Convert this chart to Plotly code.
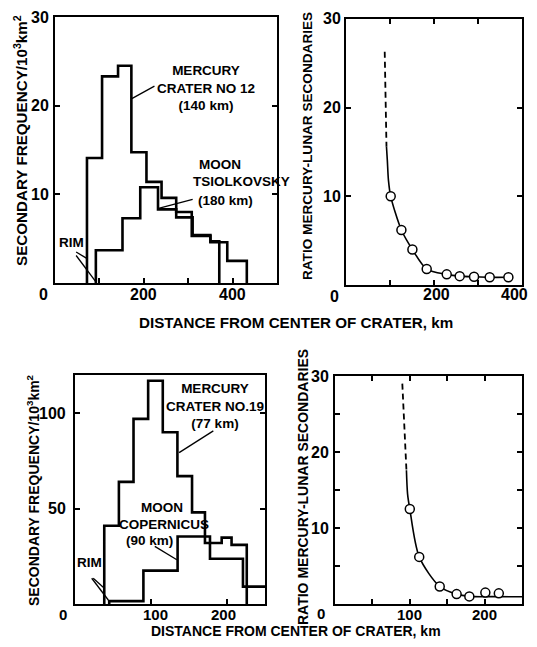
import plotly.graph_objects as go

W, H = 537, 647          # browser window
OFF = 8                  # default page (body) margin around the plot div
FW, FH = W - 2 * OFF, H - 2 * OFF

# ---------------- data ----------------
# Top-left: secondary frequency (per 10^3 km^2) vs distance (km)
merc12_edges = [72, 106, 142, 172, 206, 240, 273, 308, 350, 388, 432]
merc12_freq = [14.1, 23.3, 24.5, 14.75, 11.4, 9.6, 8.0, 5.3, 4.6, 2.5]
tsiol_edges = [92, 152, 192, 232, 273, 310, 350, 370]
tsiol_freq = [3.7, 7.3, 10.8, 8.3, 7.4, 5.4, 4.7]

# Top-right: ratio Mercury/lunar secondaries
ratio12_x = [101.6, 125.9, 150.9, 183.4, 228.9, 258.4, 291, 326.6, 369.1]
ratio12_y = [10.0, 6.2, 4.0, 1.8, 1.2, 1.0, 0.93, 0.87, 0.87]
curve12_x = [92, 94, 96.5, 101.6, 125.9, 150.9, 183.4, 228.9, 258.4, 291, 326.6, 369.1]
curve12_y = [15.6, 14.0, 11.8, 10.0, 6.2, 4.0, 1.8, 1.2, 1.0, 0.93, 0.87, 0.87]
dash12_x = [88, 92]
dash12_y = [26.3, 15.6]

# Bottom-left
merc19_edges = [38.5, 57.75, 77, 96.25, 115.5, 134.75, 154, 171, 177.6, 221, 260]
merc19_freq = [41, 64, 97, 117, 90, 67, 48, 32, 23.7, 9.1]
coper_edges = [45, 90, 135, 177.6, 193, 206, 226]
coper_freq = [1.5, 17.5, 35.4, 32, 34.8, 31]

# Bottom-right
ratio19_x = [100, 112.6, 140, 162.6, 179.6, 201, 219]
ratio19_y = [12.5, 6.2, 2.3, 1.3, 1.0, 1.5, 1.4]
curve19_x = [95.5, 97, 100, 112.6, 140, 162.6, 179.6, 215, 250]
curve19_y = [17.6, 14.5, 12.5, 6.2, 2.3, 1.3, 1.0, 0.97, 0.95]
dash19_x = [90, 95.5]
dash19_y = [29, 17.6]

# tick marks
p1_xticks = [0, 100, 200, 300, 400]
p1_yticks = [0, 10, 20, 30]
p2_xticks = [0, 100, 200, 300, 400]
p2_yticks = [0, 10, 20, 30]
p3_xticks = [0, 100, 200]
p3_yticks = [0, 50, 100]
p4_xticks = [0, 50, 100, 150, 200, 250]
p4_yticks = [0, 5, 10, 15, 20, 25, 30]
# tick labels
p1_xlabels = [200, 400]
p1_ylabels = [10, 20, 30]
p2_xlabels = [200, 400]
p2_ylabels = [10, 20, 30]
p3_xlabels = [100, 200]
p3_ylabels = [50, 100]
p4_xlabels = [100, 200]
p4_ylabels = [10, 20, 30]

FONT = "Liberation Sans, Arial, Helvetica, sans-serif"


def px(x):
    return (x - OFF) / FW


def py(y):
    return 1 - (y - OFF) / FH


def step_xy(edges, vals):
    xs = [edges[0]] + list(edges)
    ys = [0] + list(vals) + [0]
    return xs, ys


fig = go.Figure()

hist_line = dict(color="black", width=2.6)

x, y = step_xy(merc12_edges, merc12_freq)
fig.add_trace(go.Scatter(x=x, y=y, mode="lines", line=dict(shape="hv", **hist_line), xaxis="x", yaxis="y"))
x, y = step_xy(tsiol_edges, tsiol_freq)
fig.add_trace(go.Scatter(x=x, y=y, mode="lines", line=dict(shape="hv", **hist_line), xaxis="x", yaxis="y"))

fig.add_trace(go.Scatter(x=dash12_x, y=dash12_y, mode="lines", line=dict(color="black", width=1.8, dash="6px,4px"), xaxis="x2", yaxis="y2"))
fig.add_trace(go.Scatter(x=curve12_x, y=curve12_y, mode="lines", line=dict(color="black", width=1.6, shape="spline", smoothing=0.8), xaxis="x2", yaxis="y2"))
fig.add_trace(go.Scatter(x=ratio12_x, y=ratio12_y, mode="markers", marker=dict(symbol="circle", size=9, color="white", line=dict(color="black", width=1.5)), xaxis="x2", yaxis="y2"))

x, y = step_xy(merc19_edges, merc19_freq)
fig.add_trace(go.Scatter(x=x, y=y, mode="lines", line=dict(shape="hv", **hist_line), xaxis="x3", yaxis="y3"))
x, y = step_xy(coper_edges, coper_freq)
fig.add_trace(go.Scatter(x=x, y=y, mode="lines", line=dict(shape="hv", **hist_line), xaxis="x3", yaxis="y3"))

fig.add_trace(go.Scatter(x=dash19_x, y=dash19_y, mode="lines", line=dict(color="black", width=1.8, dash="6px,4px"), xaxis="x4", yaxis="y4"))
fig.add_trace(go.Scatter(x=curve19_x, y=curve19_y, mode="lines", line=dict(color="black", width=1.6, shape="spline", smoothing=0.8), xaxis="x4", yaxis="y4"))
fig.add_trace(go.Scatter(x=ratio19_x, y=ratio19_y, mode="markers", marker=dict(symbol="circle", size=9, color="white", line=dict(color="black", width=1.5)), xaxis="x4", yaxis="y4"))

tickfont = dict(family=FONT, size=16, color="black", weight="bold")
tickfont_b = dict(family=FONT, size=15, color="black", weight="bold")


def axis(domain, rng, tv, anchor, mirror):
    return dict(domain=domain, range=rng, tickvals=tv, anchor=anchor, showticklabels=False,
                showline=True, linecolor="black", linewidth=2, mirror=mirror,
                ticks="inside", ticklen=5, tickwidth=1.6, tickcolor="black",
                showgrid=False, zeroline=False)


fig.update_layout(
    width=FW, height=FH, margin=dict(l=0, r=0, t=0, b=0),
    paper_bgcolor="white", plot_bgcolor="white", showlegend=False,
    xaxis=axis([px(55), px(277)], [0, 500], p1_xticks, "y", True),
    yaxis=axis([py(283), py(17)], [0, 30], p1_yticks, "x", "ticks"),
    xaxis2=axis([px(346), px(522)], [0, 400], p2_xticks, "y2", "ticks"),
    yaxis2=axis([py(285), py(19)], [0, 30], p2_yticks, "x2", "ticks"),
    xaxis3=axis([px(75), px(265)], [0, 250], p3_xticks, "y3", True),
    yaxis3=axis([py(604), py(375)], [0, 120], p3_yticks, "x3", "ticks"),
    xaxis4=axis([px(335), px(522)], [0, 250], p4_xticks, "y4", "ticks"),
    yaxis4=axis([py(604), py(376)], [0, 30], p4_yticks, "x4", "ticks"),
)

lab = dict(family=FONT, size=13.5, color="black", weight="bold")
ttl = dict(family=FONT, size=15.2, color="black", weight="bold")
ttl_b = dict(family=FONT, size=14, color="black", weight="bold")
ttl_r = dict(family=FONT, size=13.6, color="black", weight="bold")
ttl_r4 = dict(family=FONT, size=14, color="black", weight="bold")
ttl_s = dict(family=FONT, size=14, color="black", weight="bold")
ann = []

# tick labels: (x-axis ref, labels, label center y in px, x shifts, font) and (y-axis ref, labels, right edge px)
xlab_specs = [("x", p1_xlabels, 294, [0, 0], tickfont), ("x2", p2_xlabels, 295, [2, -8], tickfont),
              ("x3", p3_xlabels, 614, [4, -4], tickfont_b), ("x4", p4_xlabels, 614, [0, 0], tickfont_b)]
for ref, labs, cy, shifts, fnt in xlab_specs:
    for v, s in zip(labs, shifts):
        ann.append(dict(x=v, y=py(cy), xref=ref, yref="paper", text=str(v), showarrow=False, font=fnt,
                        xanchor="center", yanchor="middle", xshift=s))
ylab_specs = [("y", p1_ylabels, 51), ("y2", p2_ylabels, 343), ("y3", p3_ylabels, 68), ("y4", p4_ylabels, 331)]
for ref, labs, rx in ylab_specs:
    for v in labs:
        ann.append(dict(x=px(rx), y=v, xref="paper", yref=ref, text=str(v), showarrow=False, font=tickfont,
                        xanchor="right", yanchor="middle"))

# corner zeros
for (cx, cy, fnt) in [(43, 295, tickfont), (334, 296, tickfont), (63, 614, tickfont_b), (321, 613, tickfont_b)]:
    ann.append(dict(x=px(cx), y=py(cy), xref="paper", yref="paper", text="0", showarrow=False,
                    font=fnt, xanchor="center", yanchor="middle"))

# axis titles
ann.append(dict(x=px(296), y=py(322), xref="paper", yref="paper", text="DISTANCE FROM CENTER OF CRATER, km",
                showarrow=False, font=ttl, xanchor="center", yanchor="middle"))
ann.append(dict(x=px(296), y=py(631), xref="paper", yref="paper", text="DISTANCE FROM CENTER OF CRATER, km",
                showarrow=False, font=ttl_b, xanchor="center", yanchor="middle"))
ann.append(dict(x=px(20), y=py(141), xref="paper", yref="paper", text="SECONDARY FREQUENCY/10<sup>3</sup>km<sup>2</sup>",
                showarrow=False, font=ttl, textangle=-90, xanchor="center", yanchor="middle"))
ann.append(dict(x=px(33), y=py(490), xref="paper", yref="paper", text="SECONDARY FREQUENCY/10<sup>3</sup>km<sup>2</sup>",
                showarrow=False, font=ttl_s, textangle=-90, xanchor="center", yanchor="middle"))
ann.append(dict(x=px(307), y=py(146), xref="paper", yref="paper", text="RATIO MERCURY-LUNAR SECONDARIES",
                showarrow=False, font=ttl_r, textangle=-90, xanchor="center", yanchor="middle"))
ann.append(dict(x=px(303), y=py(487), xref="paper", yref="paper", text="RATIO MERCURY-LUNAR SECONDARIES",
                showarrow=False, font=ttl_r4, textangle=-90, xanchor="center", yanchor="middle"))

# labels top-left
ann.append(dict(x=340, y=22.0, xref="x", yref="y", text="MERCURY<br>CRATER NO 12<br>(140 km)", showarrow=False,
                font=lab, align="center", xanchor="center", yanchor="middle"))
for t, xx, yy in [("MOON", 372, 13.4), ("TSIOLKOVSKY", 420, 11.4), ("(180 km)", 383, 9.3)]:
    ann.append(dict(x=xx, y=yy, xref="x", yref="y", text=t, showarrow=False, font=lab, xanchor="center", yanchor="middle"))
ann.append(dict(x=36.4, y=4.6, xref="x", yref="y", text="RIM", showarrow=False, font=lab, xanchor="center", yanchor="middle"))

# labels bottom-left
ann.append(dict(x=184, y=104, xref="x3", yref="y3", text="MERCURY<br>CRATER NO.19<br>(77 km)", showarrow=False,
                font=lab, align="center", xanchor="center", yanchor="middle"))
for t, xx, yy in [("MOON", 114.5, 50.7), ("COPERNICUS", 116.5, 41.9), ("(90 km)", 97.5, 33.2)]:
    ann.append(dict(x=xx, y=yy, xref="x3", yref="y3", text=t, showarrow=False, font=lab, xanchor="center", yanchor="middle"))
ann.append(dict(x=19.7, y=21.5, xref="x3", yref="y3", text="RIM", showarrow=False, font=lab, xanchor="center", yanchor="middle"))

fig.update_layout(annotations=ann)

# leader lines (data coords of each panel)
leaders = [
    ("x", "y", 224, 22.2, 173, 20.8),
    ("x", "y", 310, 9.43, 231, 8.4),
    ("x", "y", 47.6, 3.5, 72.4, 2.75),
    ("x", "y", 47.6, 3.1, 92.6, 0.1),
    ("x3", "y3", 182, 90.7, 137, 79.3),
    ("x3", "y3", 105, 30.2, 134, 23.2),
    ("x3", "y3", 24, 13.5, 38.6, 8.3),
    ("x3", "y3", 22, 13.5, 43.8, 2.1),
]
for xr, yr, x0, y0, x1, y1 in leaders:
    fig.add_shape(type="line", xref=xr, yref=yr, x0=x0, y0=y0, x1=x1, y1=y1, line=dict(color="black", width=1.3))

fig.write_html("out.html")
